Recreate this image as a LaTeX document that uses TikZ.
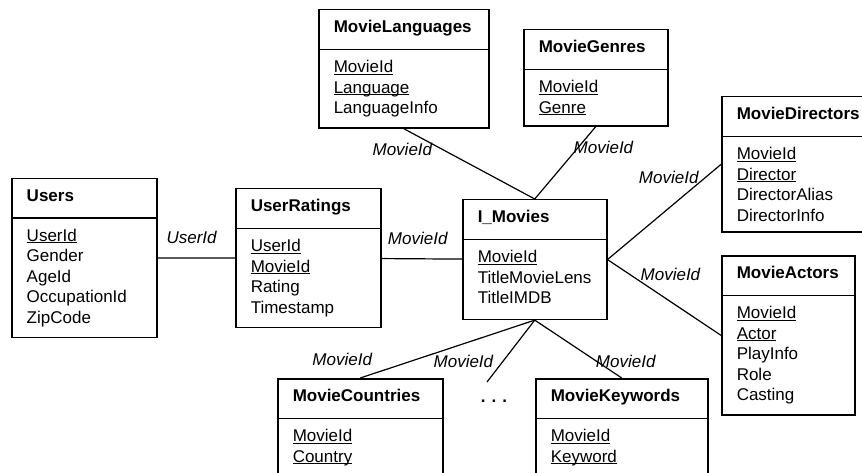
\documentclass[tikz,border=0pt]{standalone}
\usepackage{fontspec}
\setmainfont{Liberation Sans}
\usepackage{tikz}
\usetikzlibrary{shapes.multipart}
\newcommand{\tabtitle}[1]{\rule[-6pt]{0pt}{15pt}\textbf{#1}}

\begin{document}
\begin{tikzpicture}[x=1pt,y=-1pt,
  font=\fontsize{17}{20.5}\selectfont,
  table/.style={rectangle split,rectangle split parts=2,draw,line width=1.5pt,
                inner xsep=15pt,inner ysep=10pt,align=left,anchor=north west},
  link/.style={line width=1.2pt},
  lbl/.style={font=\fontsize{17}{20.5}\selectfont\itshape,inner sep=0pt}
]
\useasboundingbox (0,0) rectangle (862,473);
\clip (0,0) rectangle (862,473);
\node[table,text width=115pt] (users)     at (11,178)  {\tabtitle{Users}\nodepart{two}\underbar{UserId}\\Gender\\AgeId\\OccupationId\\ZipCode};
\node[table,text width=115pt] (ratings)   at (235,188) {\tabtitle{UserRatings}\nodepart{two}\underbar{UserId}\\\underbar{MovieId}\\Rating\\Timestamp};
\node[table,text width=114pt] (movies)    at (462,199) {\tabtitle{I\_Movies}\nodepart{two}\underbar{MovieId}\\TitleMovieLens\\TitleIMDB\rule[-5pt]{0pt}{5pt}};
\node[table,text width=140pt] (langs)     at (318,9)   {\tabtitle{MovieLanguages}\nodepart{two}\underbar{MovieId}\\\underbar{Language}\\LanguageInfo};
\node[table,text width=114pt] (genres)    at (523,29)  {\tabtitle{MovieGenres}\nodepart{two}\underbar{MovieId}\\\underbar{Genre}};
\node[table,text width=130pt] (directors) at (721,96)  {\tabtitle{MovieDirectors}\nodepart{two}\underbar{MovieId}\\\underbar{Director}\\DirectorAlias\\DirectorInfo};
\node[table,text width=103pt] (actors)    at (721,255) {\tabtitle{MovieActors}\nodepart{two}\underbar{MovieId}\\\underbar{Actor}\\PlayInfo\\Role\\Casting};
\node[table,text width=135pt] (countries) at (277,378) {\tabtitle{MovieCountries}\nodepart{two}\underbar{MovieId}\\\underbar{Country}\\\mbox{}\\\mbox{}};
\node[table,text width=142pt] (keywords)  at (535,378) {\tabtitle{MovieKeywords}\nodepart{two}\underbar{MovieId}\\\underbar{Keyword}\\\mbox{}\\\mbox{}};
\node (more) at (494,401) {\textbf{.\hspace{6pt}.\hspace{6pt}.}};
\coordinate (dotsend) at (487,382);
\draw[link] (users) -- node[lbl,pos=0.44,above=14pt]{UserId} (ratings);
\draw[link] (ratings) -- node[lbl,pos=0.45,above=14pt]{MovieId} (movies);
\draw[link] (langs.south) -- node[lbl,pos=0.29,left=9pt]{MovieId} (movies.north);
\draw[link] (genres.south) -- node[lbl,pos=0.29,anchor=west,xshift=-5pt]{MovieId} (movies.north);
\draw[link] (movies.east) -- node[lbl,pos=0.86,left=6pt]{MovieId} (directors.west);
\draw[link] (movies.east) -- node[lbl,pos=0.19,right=11pt]{MovieId} (actors.west);
\draw[link] (movies.south) -- node[lbl,pos=1,anchor=south,xshift=-18pt,yshift=12pt]{MovieId} (countries.north);
\draw[link] (movies.south) -- node[lbl,pos=0.67,left=9pt]{MovieId} (dotsend);
\draw[link] (movies.south) -- node[lbl,pos=0.72,anchor=west,xshift=-2pt]{MovieId} (keywords.north);
\end{tikzpicture}
\end{document}
